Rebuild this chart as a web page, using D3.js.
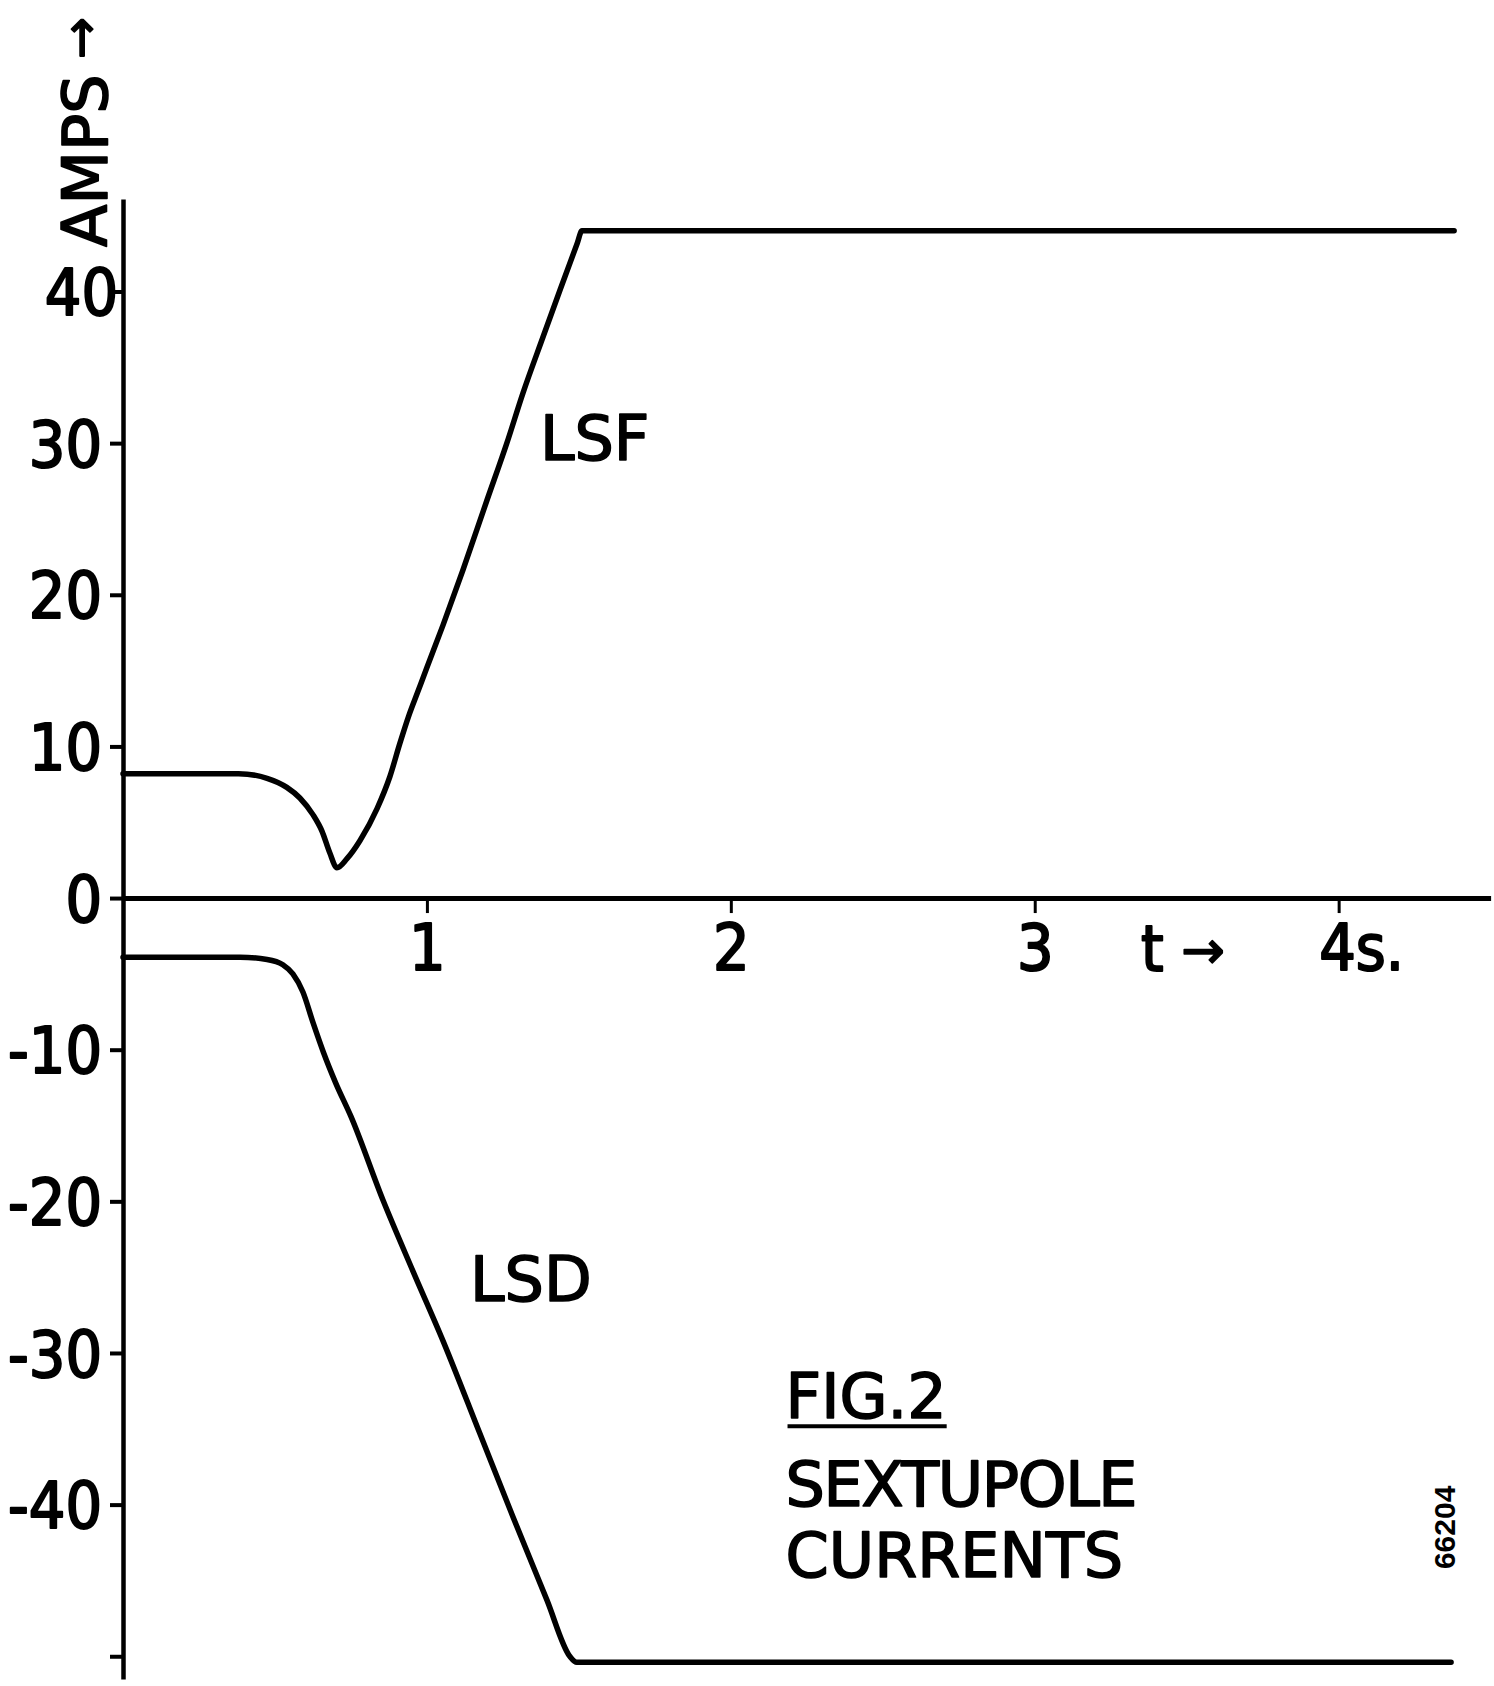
<!DOCTYPE html>
<html>
<head>
<meta charset="utf-8">
<script src="https://cdn.jsdelivr.net/npm/d3@7"></script>
<style>
  body { margin: 0; background: #fff; }
  svg { display: block; }
  .lbl { font-family: "DejaVu Sans", sans-serif; fill: #000; stroke: #000; stroke-width: 1.6; stroke-linejoin: round; }
  .num { font-family: "Liberation Sans Narrow", "DejaVu Sans Condensed", sans-serif; fill: #000; stroke: #000; stroke-width: 2; stroke-linejoin: round; }
</style>
</head>
<body>
<div class="bigvis"></div>
<script>
var width = 1494
var height = 1686

// LSF current, time in s / amps
var lsfTime = [0, 0.38, 0.474, 0.539, 0.582, 0.625, 0.655, 0.68, 0.704, 0.737, 0.78, 0.836, 0.878, 0.911, 0.94, 0.97, 1.0, 1.053, 1.118, 1.197, 1.263, 1.316, 1.382, 1.438, 1.495, 1.51, 4.38]
var lsfAmps = [8.2, 8.2, 7.9, 7.3, 6.6, 5.5, 4.4, 3.0, 2.0, 2.6, 3.8, 5.9, 8.0, 10.2, 12.0, 13.6, 15.2, 18.0, 21.6, 26.2, 30.0, 33.3, 37.0, 40.1, 43.2, 44.0, 44.0]

// LSD current
var lsdTime = [0, 0.385, 0.474, 0.526, 0.559, 0.592, 0.625, 0.66, 0.70, 0.75, 0.855, 0.954, 1.053, 1.174, 1.283, 1.395, 1.47, 1.493, 4.37]
var lsdAmps = [-3.9, -3.9, -4.05, -4.4, -5.0, -6.2, -8.2, -10.2, -12.2, -14.4, -19.9, -24.6, -29.2, -35.3, -40.8, -46.3, -50.0, -50.4, -50.4]

var yTicks = [-50, -40, -30, -20, -10, 0, 10, 20, 30, 40]
var yTickLabels = ["", "-40", "-30", "-20", "-10", "0", "10", "20", "30", "40"]
var xTicks = [1, 2, 3, 4]
var xTickLabels = ["1", "2", "3", "4s."]

var x = d3.scaleLinear().domain([0, 4.5]).range([123, 1490.6])
var y = d3.scaleLinear().domain([-51.5, 46.1]).range([1679, 199])

var svg = d3.select(".bigvis").append("svg")
    .attr("width", width)
    .attr("height", height)

svg.append("rect").attr("width", width).attr("height", height).attr("fill", "#fff")

// y axis
var yAxis = svg.append("g")
    .attr("transform", "translate(" + x(0) + ",0)")
    .call(d3.axisLeft(y).tickValues(yTicks).tickSize(13).tickSizeOuter(0).tickPadding(9)
        .tickFormat(function(d, i){ return yTickLabels[i] }))
yAxis.select(".domain").attr("stroke", "#000").attr("stroke-width", 4.5)
yAxis.selectAll(".tick line").attr("stroke", "#000").attr("stroke-width", 4)
yAxis.selectAll(".tick text")
    .attr("class", "num")
    .attr("font-size", 64)
    .attr("dy", "0.36em")
    .attr("x", function(d){ return d == 40 ? -5 : -21 })

// x axis
var xAxis = svg.append("g")
    .attr("transform", "translate(0," + y(0) + ")")
    .call(d3.axisBottom(x).tickValues(xTicks).tickSize(15).tickSizeOuter(0).tickPadding(12)
        .tickFormat(function(d, i){ return xTickLabels[i] }))
xAxis.select(".domain").attr("stroke", "#000").attr("stroke-width", 5)
xAxis.selectAll(".tick line").attr("stroke", "#000").attr("stroke-width", 3)
xAxis.selectAll(".tick text")
    .attr("class", "num")
    .attr("font-size", 64)
    .attr("dy", "0.71em")
    .attr("text-anchor", function(d){ return d == 4 ? "start" : "middle" })
    .attr("x", function(d){ return d == 4 ? -20 : 0 })

var line = d3.line()
    .x(function(d){ return x(d[0]) })
    .y(function(d){ return y(d[1]) })
    .curve(d3.curveMonotoneX)

var series = [
  d3.zip(lsfTime, lsfAmps),
  d3.zip(lsdTime, lsdAmps)
]

svg.selectAll(".curve")
    .data(series)
  .enter().append("path")
    .attr("class", "curve")
    .attr("d", line)
    .attr("fill", "none")
    .attr("stroke", "#000")
    .attr("stroke-width", 5.5)
    .attr("stroke-linejoin", "round")
    .attr("stroke-linecap", "round")

// annotations placed in data units
function label(txt, t, a, size){
  return svg.append("text")
      .attr("class", "lbl")
      .attr("x", x(t))
      .attr("y", y(a))
      .attr("font-size", size)
      .text(txt)
}

label("LSF", 1.372, 28.9, 62)
label("LSD", 1.142, -26.6, 62)
var fig = label("FIG.2", 2.18, -34.3, 62)
label("SEXTUPOLE", 2.18, -40.1, 62)
    .attr("textLength", 352)
    .attr("lengthAdjust", "spacing")
label("CURRENTS", 2.18, -44.8, 62)

var fb = fig.node().getBBox()
svg.append("line")
    .attr("x1", fb.x + 2).attr("x2", fb.x + fb.width)
    .attr("y1", y(-34.3) + 8).attr("y2", y(-34.3) + 8)
    .attr("stroke", "#000").attr("stroke-width", 4)

// time axis title
svg.append("text")
    .attr("class", "num")
    .attr("x", x(3.35))
    .attr("y", y(0) + 73)
    .attr("font-size", 64)
    .text("t")
svg.append("text")
    .attr("class", "lbl")
    .attr("x", x(3.554))
    .attr("y", y(0) + 70)
    .attr("font-size", 52)
    .attr("text-anchor", "middle")
    .text("→")

// vertical axis title
svg.append("text")
    .attr("class", "lbl")
    .attr("transform", "translate(107,247) rotate(-90)")
    .attr("font-size", 62)
    .text("AMPS")
svg.append("text")
    .attr("class", "lbl")
    .attr("transform", "translate(98,38) rotate(-90)")
    .attr("font-size", 50)
    .attr("text-anchor", "middle")
    .text("→")

// drawing number
svg.append("text")
    .attr("transform", "translate(" + x(4.383) + "," + y(-41.5) + ") rotate(-90)")
    .attr("font-family", "Liberation Sans, sans-serif")
    .attr("font-weight", "bold")
    .attr("font-size", 30)
    .attr("text-anchor", "middle")
    .text("66204")
</script>
</body>
</html>
